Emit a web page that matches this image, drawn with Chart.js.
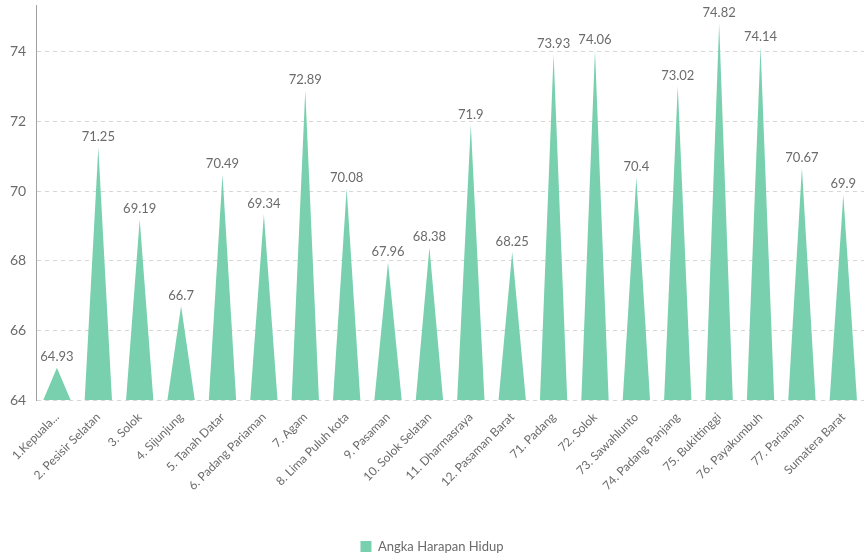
<!DOCTYPE html>
<html>
<head>
<meta charset="utf-8">
<script src="https://cdn.jsdelivr.net/npm/chart.js@4/dist/chart.umd.min.js"></script>
<style>
  html, body { margin: 0; padding: 0; background: #fff; }
  #wrap { width: 864px; height: 557px; }
</style>
</head>
<body>
<div id="wrap"><canvas id="ahhChart"></canvas></div>
<script>
const REGIONS = [
  '1.Kepuala...', '2. Pesisir Selatan', '3. Solok', '4. Sijunjung', '5. Tanah Datar',
  '6. Padang Pariaman', '7. Agam', '8. Lima Puluh kota', '9. Pasaman', '10. Solok Selatan',
  '11. Dharmasraya', '12. Pasaman Barat', '71. Padang', '72. Solok', '73. Sawahlunto',
  '74. Padang Panjang', '75. Bukittinggi', '76. Payakumbuh', '77. Pariaman', 'Sumatera Barat',
];
const AHH = [
  64.93, 71.25, 69.19, 66.7, 70.49,
  69.34, 72.89, 70.08, 67.96, 68.38,
  71.9, 68.25, 73.93, 74.06, 70.4,
  73.02, 74.82, 74.14, 70.67, 69.9,
];
const Y_TICKS = [64, 66, 68, 70, 72, 74];

const FILL = '#79d0ae';
const TEXT = '#6b6b6b';

// draw each bar as a triangle (peak at the value, base on the axis floor)
const trianglePlugin = {
  id: 'triangles',
  beforeDatasetDraw() {
    return false;
  },
  afterDatasetsDraw(chart) {
    const ctx = chart.ctx;
    const meta = chart.getDatasetMeta(0);
    const floor = chart.scales.y.getPixelForValue(chart.scales.y.min);
    ctx.save();
    ctx.fillStyle = FILL;
    meta.data.forEach((bar) => {
      const half = bar.width / 2;
      ctx.beginPath();
      ctx.moveTo(bar.x - half, floor);
      ctx.lineTo(bar.x, bar.y);
      ctx.lineTo(bar.x + half, floor);
      ctx.closePath();
      ctx.fill();
    });
    ctx.font = '13px Lato';
    ctx.fillStyle = TEXT;
    ctx.textAlign = 'center';
    ctx.textBaseline = 'bottom';
    meta.data.forEach((bar, i) => {
      ctx.fillText(String(AHH[i]), bar.x, bar.y - 4);
    });
    ctx.restore();
  },
};

new Chart(document.getElementById('ahhChart'), {
  type: 'bar',
  data: {
    labels: REGIONS,
    datasets: [{
      label: 'Angka Harapan Hidup',
      data: AHH,
      backgroundColor: FILL,
      borderWidth: 0,
      categoryPercentage: 1,
      barPercentage: 0.66,
    }],
  },
  options: {
    responsive: true,
    maintainAspectRatio: false,
    animation: false,
    layout: {
      padding: { top: 5, left: 0, right: 0, bottom: -6 },
    },
    plugins: {
      legend: {
        position: 'bottom',
        labels: {
          boxWidth: 11,
          boxHeight: 11,
          padding: 5,
          color: TEXT,
          font: { family: 'Lato', size: 13 },
        },
      },
      tooltip: { enabled: false },
    },
    scales: {
      x: {
        border: { display: false },
        grid: { display: false },
        ticks: {
          autoSkip: false,
          minRotation: 45,
          maxRotation: 45,
          color: TEXT,
          padding: 2,
          font: { family: 'Lato', size: 12 },
        },
        afterFit(scale) {
          scale.height = 135;
        },
      },
      y: {
        min: 64,
        max: 75.35,
        border: { display: true, color: '#a0a0a0', width: 1, dash: [4, 4] },
        grid: {
          color: '#d6d6d6',
          drawTicks: false,
        },
        afterBuildTicks(scale) {
          scale.ticks = Y_TICKS.map((v) => ({ value: v }));
        },
        afterFit(scale) {
          scale.paddingTop = 0;
          scale.paddingBottom = 0;
        },
        ticks: {
          color: TEXT,
          padding: 10,
          font: { family: 'Lato', size: 14 },
        },
      },
    },
  },
  plugins: [trianglePlugin],
});
</script>
</body>
</html>
